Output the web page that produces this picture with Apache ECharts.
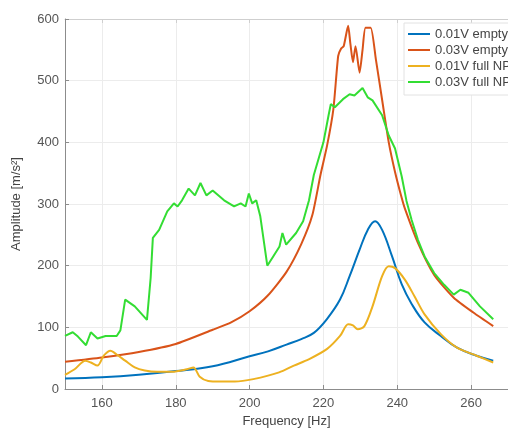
<!DOCTYPE html>
<html>
<head>
<meta charset="utf-8">
<script src="https://cdn.jsdelivr.net/npm/echarts@6/dist/echarts.min.js"></script>
<style>html,body{margin:0;padding:0;background:#fff}#c{width:508px;height:433px}</style>
</head>
<body>
<div id="c"></div>
<script>
const seriesNames = ['0.01V empty', '0.03V empty', '0.01V full NP', '0.03V full NP'];
const xTicks = [160, 180, 200, 220, 240, 260];

const freqBlue = [150, 160, 170, 180, 190, 200, 205, 210, 214, 217.4, 220.9, 224.5, 227.1, 229.8, 232, 234, 235.9, 238.6, 241.2, 243.9, 247.4, 251.8, 256.2, 261.5, 266];
const ampBlue  = [17, 19, 23, 29, 37, 53, 61, 72, 81, 91, 113, 145, 183, 226, 258, 272, 258, 215, 170, 138, 108, 86, 67, 54, 46];

const freqOrange = [150, 160, 170, 180, 190, 195, 200, 205, 210, 214, 217, 219.2, 221, 222.7, 224, 224.8, 225.5, 226.7, 227.3, 228, 228.7, 229.8, 230.6, 231.4, 232.8, 234.2, 236, 237.7, 239.4, 241.2, 242.1, 245.6, 250, 255.3, 260.6, 266];
const ampOrange  = [44, 51, 60, 73, 96, 108, 126, 152, 190, 235, 282, 347, 395, 454, 540, 552, 556, 589, 560, 530, 556, 513, 550, 586, 586, 535, 465, 400, 352, 310, 292, 237, 185, 148, 124, 102];

const freqYellow = [150, 152.6, 155.5, 157, 158.8, 160.5, 162.3, 164, 166.3, 168.9, 171.6, 175, 179, 183, 184.8, 186.5, 188.8, 192, 196, 201, 208, 212, 216, 221, 224.5, 226.7, 228, 229.3, 231.1, 233.3, 235.9, 237.7, 239.4, 242.1, 244.7, 247.4, 251.8, 256.2, 261.5, 266];
const ampYellow  = [23, 32, 46, 43, 38, 54, 62, 56, 46, 35, 30, 28, 28, 32, 35, 20, 13, 12, 12, 16, 27, 38, 48, 65, 86, 105, 103, 97, 102, 134, 183, 199, 196, 177, 150, 121, 89, 67, 54, 43];

const freqGreen = [150, 152.1, 153.5, 155.7, 157, 158.8, 161, 164, 165, 166.3, 168.9, 172.2, 173.2, 173.8, 175.5, 177.7, 179.5, 180.5, 181.7, 183.5, 185.2, 186.7, 188.3, 190, 193.1, 195.8, 197.6, 198.9, 199.8, 200.7, 201.8, 202.9, 204.8, 206.4, 208.1, 208.9, 209.9, 212.6, 214.5, 216.1, 217.4, 220, 221.4, 222, 223.1, 225.3, 227.1, 228.4, 230.6, 232, 233.3, 235.9, 237.7, 239.4, 241.2, 242.5, 243.9, 245.6, 247.4, 250, 252.7, 255.3, 257.1, 259.3, 262.4, 266];
const ampGreen  = [86, 92, 85, 71, 92, 82, 86, 86, 95, 145, 134, 112, 180, 245, 258, 288, 301, 296, 306, 325, 314, 334, 314, 322, 306, 296, 301, 296, 317, 301, 306, 280, 200, 215, 231, 253, 234, 253, 272, 306, 347, 400, 444, 462, 457, 470, 478, 476, 488, 473, 468, 444, 411, 390, 345, 305, 274, 242, 215, 188, 169, 153, 161, 156, 134, 113];

const pairs = (xs, ys) => xs.map((x, i) => [x, ys[i]]);
const colors = ['#0072BD', '#D95319', '#EDB120', '#33DD33'];
const font = 'Liberation Sans, Arial, Helvetica, sans-serif';
const axisCol = '#8c8c8c';
const gridCol = '#ececec';

const chart = echarts.init(document.getElementById('c'), null, {renderer: 'canvas'});
const mkSeries = (name, data, color, smooth) => ({
  name, type: 'line', data, symbol: 'none', showSymbol: false, smooth,
  lineStyle: {color, width: 2}, itemStyle: {color}, clip: true
});
chart.setOption({
  animation: false,
  backgroundColor: '#fff',
  grid: {left: 65, right: -11, top: 19, bottom: 43, containLabel: false},
  xAxis: [{
    type: 'value', min: 150, max: 270, position: 'bottom',
    name: 'Frequency [Hz]', nameLocation: 'middle', nameGap: 26,
    nameTextStyle: {color: '#444', fontSize: 13, fontFamily: font},
    axisLine: {show: true, lineStyle: {color: axisCol, width: 1}},
    axisTick: {show: true, inside: true, length: 4, lineStyle: {color: axisCol}, customValues: xTicks},
    axisLabel: {color: '#555', fontSize: 13, fontFamily: font, margin: 8, customValues: xTicks},
    splitLine: {show: true, lineStyle: {color: gridCol, width: 1}}
  }, {
    type: 'value', min: 150, max: 270, position: 'top',
    axisLine: {show: true, lineStyle: {color: '#cfcfcf', width: 1}},
    axisTick: {show: true, inside: true, length: 4, lineStyle: {color: '#cfcfcf'}, customValues: xTicks},
    axisLabel: {show: false, customValues: xTicks}, splitLine: {show: false}
  }],
  yAxis: {
    type: 'value', min: 0, max: 600, interval: 100,
    name: 'Amplitude [m/s²]', nameLocation: 'middle', nameGap: 42, nameRotate: 90,
    nameTextStyle: {color: '#444', fontSize: 13, fontFamily: font},
    axisLine: {show: true, lineStyle: {color: axisCol, width: 1}},
    axisTick: {show: true, inside: true, length: 4, lineStyle: {color: axisCol}},
    axisLabel: {color: '#555', fontSize: 13, fontFamily: font, margin: 6},
    splitLine: {show: true, lineStyle: {color: gridCol, width: 1}}
  },
  legend: {
    orient: 'vertical', left: 404, top: 23,
    padding: [3, 4, 5, 4], itemWidth: 22, itemHeight: 2, itemGap: 0,
    icon: 'rect',
    backgroundColor: '#fff', borderColor: '#e2e2e2', borderWidth: 1, borderRadius: 0,
    textStyle: {color: '#444', fontSize: 13, lineHeight: 16, fontFamily: font},
    data: seriesNames
  },
  series: [
    mkSeries(seriesNames[0], pairs(freqBlue, ampBlue), colors[0], 0.4),
    mkSeries(seriesNames[1], pairs(freqOrange, ampOrange), colors[1], 0.2),
    mkSeries(seriesNames[2], pairs(freqYellow, ampYellow), colors[2], 0.3),
    mkSeries(seriesNames[3], pairs(freqGreen, ampGreen), colors[3], false)
  ]
});
</script>
</body>
</html>
